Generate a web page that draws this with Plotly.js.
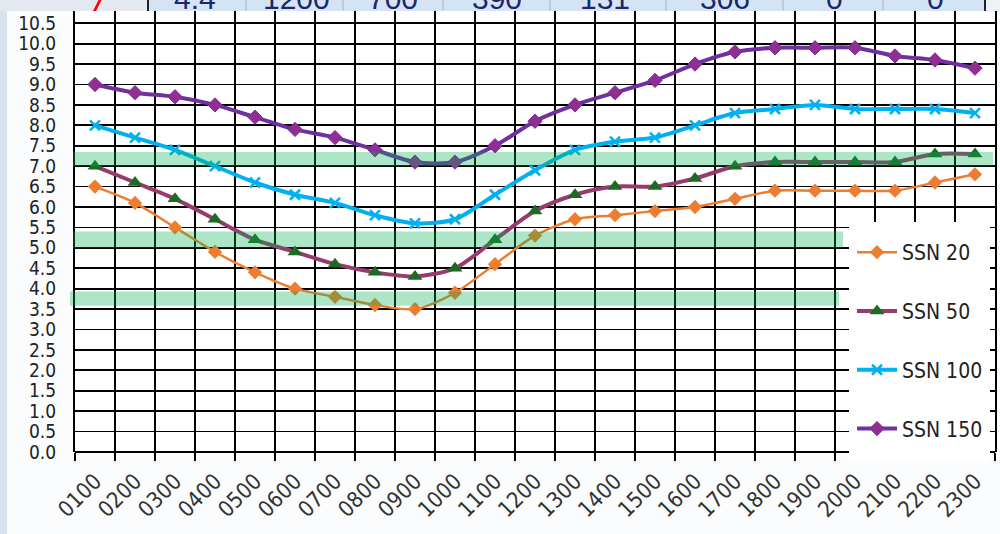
<!DOCTYPE html>
<html>
<head>
<meta charset="utf-8">
<script src="https://cdn.plot.ly/plotly-3.0.1.min.js"></script>
<style>
html,body{margin:0;padding:0;background:#fbfcfd;}
#chart{width:1000px;height:534px;}
</style>
</head>
<body>
<div id="chart"></div>
<script>
// ---- data ----
const hours = ['0100','0200','0300','0400','0500','0600','0700','0800','0900','1000','1100','1200',
               '1300','1400','1500','1600','1700','1800','1900','2000','2100','2200','2300'];
const ssn20  = [6.5,6.1,5.5,4.9,4.4,4.0,3.8,3.6,3.5,3.9,4.6,5.3,5.7,5.8,5.9,6.0,6.2,6.4,6.4,6.4,6.4,6.6,6.8];
const ssn50  = [7.0,6.6,6.2,5.7,5.2,4.9,4.6,4.4,4.3,4.5,5.2,5.9,6.3,6.5,6.5,6.7,7.0,7.1,7.1,7.1,7.1,7.3,7.3];
const ssn100 = [8.0,7.7,7.4,7.0,6.6,6.3,6.1,5.8,5.6,5.7,6.3,6.9,7.4,7.6,7.7,8.0,8.3,8.4,8.5,8.4,8.4,8.4,8.3];
const ssn150 = [9.0,8.8,8.7,8.5,8.2,7.9,7.7,7.4,7.1,7.1,7.5,8.1,8.5,8.8,9.1,9.5,9.8,9.9,9.9,9.9,9.7,9.6,9.4];
const seriesNames = ['SSN 20','SSN 50','SSN 100','SSN 150'];
const bandLows  = [7.0, 5.0, 3.58];
const bandHighs = [7.35, 5.4, 3.93];
const headerVals = ['4.4','1200','700','390','131','306','0','0'];

// ---- layout helpers (page pixels -> paper coords) ----
const M = {l:75, r:5, t:11, b:82};
const PW = 1000 - M.l - M.r, PH = 534 - M.t - M.b;
const px = p => (p - M.l) / PW;
const py = p => (534 - M.b - p) / PH;

const FONT = '"DejaVu Sans Condensed", "Liberation Sans Narrow", sans-serif';

const traces = [
  {x: hours, y: ssn20, name: seriesNames[0], legendgroup:'a', type:'scatter', mode:'lines+markers',
   line:{color:'#ED7D31', width:2.5, shape:'spline', smoothing:0.8},
   marker:{symbol:'diamond', size:11, color:'#ED7D31'}},
  {x: hours, y: ssn50, name: seriesNames[1], legendgroup:'b', type:'scatter', mode:'lines+markers',
   line:{color:'#973B6F', width:4, shape:'spline', smoothing:0.8},
   marker:{symbol:'triangle-up', size:13, color:'#1C6B23'}},
  {x: hours, y: ssn100, name: seriesNames[2], legendgroup:'c', type:'scatter', mode:'lines+markers',
   line:{color:'#00B0F0', width:4, shape:'spline', smoothing:0.8},
   marker:{symbol:'x-thin', size:10, color:'#00B0F0', line:{color:'#00B0F0', width:2.5}}},
  {x: hours, y: ssn150, name: seriesNames[3], legendgroup:'d', type:'scatter', mode:'lines+markers',
   line:{color:'#7030A0', width:4, shape:'spline', smoothing:0.8},
   marker:{symbol:'diamond', size:11, color:'#912E92', line:{color:'#7A2F9E', width:1}}}
];

const bandX = [[73,993],[73,843],[70,839]];
const shapes = [];
// background decorations
shapes.push({type:'rect', xref:'paper', yref:'paper', layer:'below', x0:px(0), x1:px(7), y0:py(534), y1:py(0),
             fillcolor:'#d9e2ee', line:{width:0}});
shapes.push({type:'rect', xref:'paper', yref:'paper', layer:'below', x0:px(0), x1:px(148), y0:py(11), y1:py(-2),
             fillcolor:'#e4e9f0', line:{width:0}});
shapes.push({type:'rect', xref:'paper', yref:'paper', layer:'below', x0:px(148), x1:px(985), y0:py(11), y1:py(-2),
             fillcolor:'#d5e4f4', line:{width:0}});
shapes.push({type:'rect', xref:'paper', yref:'paper', layer:'below', x0:px(985), x1:px(1000), y0:py(11), y1:py(-2),
             fillcolor:'#eef1f5', line:{width:0}});
[246,343,443,550,666,783,883].forEach(c => shapes.push({type:'line', xref:'paper', yref:'paper', layer:'below',
             x0:px(c), x1:px(c), y0:py(11), y1:py(-2), line:{color:'#aab4c2', width:1}}));
[148,985].forEach(c => shapes.push({type:'line', xref:'paper', yref:'paper', layer:'below',
             x0:px(c), x1:px(c), y0:py(11), y1:py(-2), line:{color:'#222', width:2}}));
shapes.push({type:'path', xref:'paper', yref:'paper', layer:'below',
             path:`M ${px(93)} ${py(11)} L ${px(99)} ${py(-1)} L ${px(102)} ${py(-1)} L ${px(96)} ${py(11)} Z`,
             fillcolor:'#ff0000', line:{width:0}});
// green bands (above lines, translucent)
bandLows.forEach((lo, i) => shapes.push({type:'rect', xref:'paper', yref:'y', layer:'above',
             x0:px(bandX[i][0]), x1:px(bandX[i][1]), y0:lo, y1:bandHighs[i],
             fillcolor:'rgb(0,176,80)', opacity:0.32, line:{width:0}}));
// legend white box
shapes.push({type:'rect', xref:'paper', yref:'paper', layer:'above', x0:px(849), x1:px(990), y0:py(461), y1:py(222),
             fillcolor:'#ffffff', line:{width:0}});

const headerX = [195,296,393,497,605,725,834,935];
const annotations = headerVals.map((t, i) => ({
  text: t, xref:'paper', yref:'paper', x: px(headerX[i]), y: py(-1), xanchor:'center', yanchor:'middle',
  showarrow:false, font:{family:'"Liberation Sans", Arial, sans-serif', size:30, color:'#1b2766'}
}));

const layout = {
  width:1000, height:534,
  margin:M,
  paper_bgcolor:'#fbfcfd', plot_bgcolor:'#ffffff',
  showlegend:true,
  legend:{x:px(852), xanchor:'left', y:py(232), yanchor:'top', bgcolor:'rgba(0,0,0,0)',
          font:{family:FONT, size:21, color:'#222'}, tracegroupgap:28.5, itemwidth:40,
          traceorder:'grouped'},
  xaxis:{type:'category', range:[-0.5,22.5], tickson:'boundaries', ticks:'outside', ticklen:8,
         tickcolor:'#000', tickwidth:2, showgrid:true, gridcolor:'#000', gridwidth:1.8,
         tickangle:-45, tickfont:{family:FONT, size:22, color:'#333'}, ticklabelstandoff:11,
         showline:false, zeroline:false, automargin:false, fixedrange:true},
  yaxis:{range:[0,10.8], dtick:0.5, tick0:0, tickformat:'.1f', showgrid:true, gridcolor:'#000', gridwidth:1.8,
         zeroline:true, zerolinecolor:'#000', zerolinewidth:2, showline:true, mirror:true, linecolor:'#000',
         linewidth:2, ticks:'', ticklabelstandoff:13, tickfont:{family:FONT, size:19, color:'#222'},
         automargin:false, fixedrange:true},
  shapes: shapes,
  annotations: annotations
};

Plotly.newPlot('chart', traces, layout, {displayModeBar:false, staticPlot:true});
</script>
</body>
</html>
